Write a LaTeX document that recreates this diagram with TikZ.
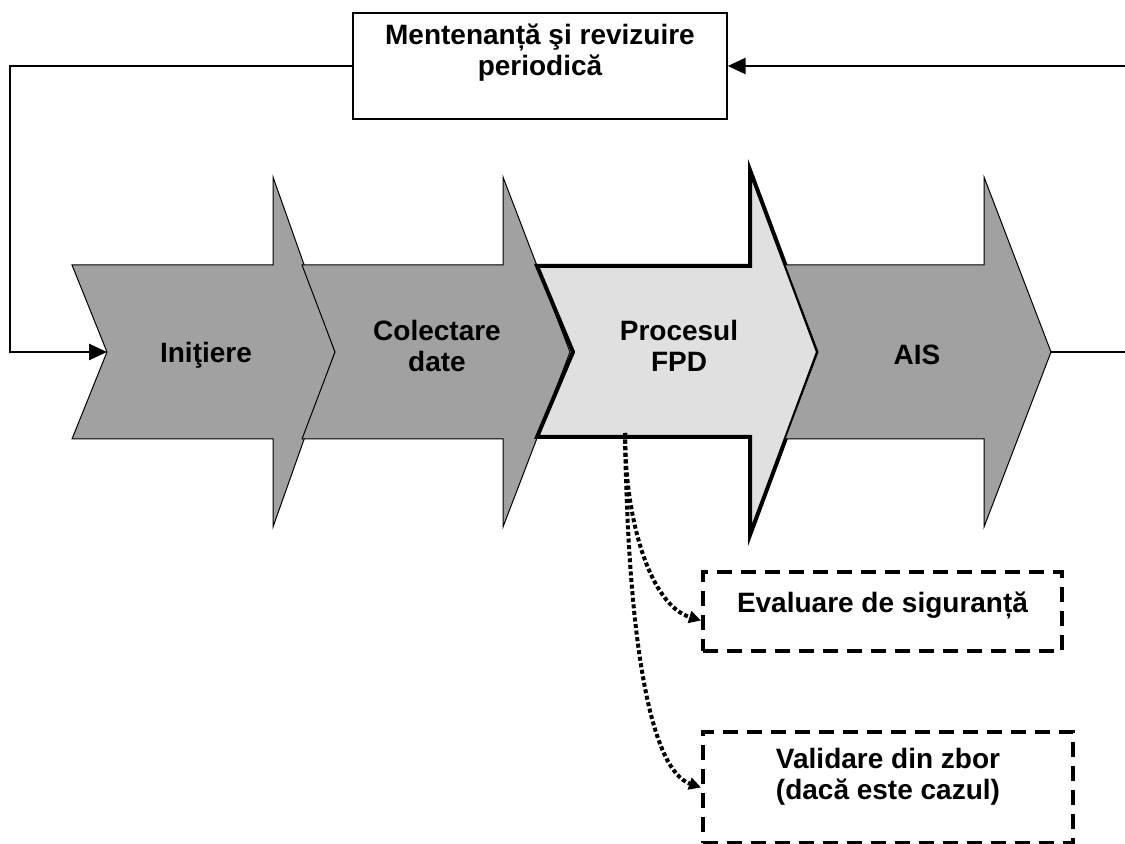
\documentclass[tikz,border=0pt]{standalone}
\usepackage{fontspec}
\setmainfont{Liberation Sans}
\usetikzlibrary{arrows.meta}
\definecolor{phasegray}{gray}{0.63}
\definecolor{fpdgray}{gray}{0.88}
\begin{document}
\begin{tikzpicture}[x=0.5pt, y=-0.5pt, every node/.style = {align=center, font=\bfseries\fontsize{14}{15.5}\selectfont}, line width=0.5pt]
	\tikzstyle{phase} = [fill=phasegray, draw=black, line width=0.5pt]
	\tikzstyle{fpd} = [fill=fpdgray, draw=black, line width=2pt]
	\tikzstyle{maint} = [draw, line width=0.7pt, minimum width=187pt, minimum height=53pt]
	\tikzstyle{check} = [draw, dash pattern=on 7.5pt off 4.5pt, line width=2pt]
	\tikzstyle{loop} = [line width=1.3pt, -{Triangle[length=9pt,width=8pt]}]
	\tikzstyle{link} = [line width=2pt, dash pattern=on 2pt off 1.3pt, -{Triangle[length=6pt,width=6pt]}]
	\useasboundingbox (0,0) rectangle (1125,844);
	% faze
	\draw[phase] (72,265) -- (273,265) -- (273,177) -- (335,352) -- (273,527) -- (273,439) -- (72,439) -- (107,352) -- cycle;
	\draw[phase] (302,265) -- (503,265) -- (503,177) -- (570,352) -- (503,527) -- (503,439) -- (302,439) -- (335,352) -- cycle;
	\draw[fpd] (537,266) -- (750,266) -- (750,170) -- (818,352) -- (750,535) -- (750,437) -- (537,437) -- (573,352) -- cycle;
	\draw[phase] (785,265) -- (984,265) -- (984,177) -- (1051,352) -- (984,527) -- (984,439) -- (785,439) -- (818,352) -- cycle;
	\node (initiere) at (206,355) {Iniţiere};
	\node (colectare) at (437,346) {Colectare\\date};
	\node (fpd) at (679,346) {Procesul\\FPD};
	\node (ais) at (917,355) {AIS};
	\coordinate (initiere-in) at (107,352);
	\coordinate (ais-out) at (1051,352);
	\coordinate (fpd-out) at (625,433);
	\coordinate (left-corner) at (10,352);
	\coordinate (right-low) at (1125,352);
	\coordinate (right-high) at (1125,66);
	% bucla
	\node[maint] (mentenanta) at (540,66) {Mentenanță şi revizuire\\periodică\\[0.5pt]\mbox{}};
	\draw[loop] (mentenanta.west) -| (left-corner) -- (initiere-in);
	\draw[loop] (right-high) -- (mentenanta.east);
	\draw[line width=1.3pt] (ais-out) -- (right-low);
	% verificari
	\node[check, minimum width=179.5pt, minimum height=39.5pt] (evaluare) at (882.5,611.5) {Evaluare de siguranță\\[-6pt]\mbox{}};
	\node[check, minimum width=185pt, minimum height=55.5pt] (validare) at (888,787.5) {Validare din zbor\\(dacă este cazul)\\[-2pt]\mbox{}};
	\draw[link] (fpd-out) .. controls (625,520) and (650,605) .. ([yshift=-4.5pt]evaluare.west);
	\draw[link] (fpd-out) .. controls (628,640) and (650,770) .. (validare.west);
\end{tikzpicture}
\end{document}
